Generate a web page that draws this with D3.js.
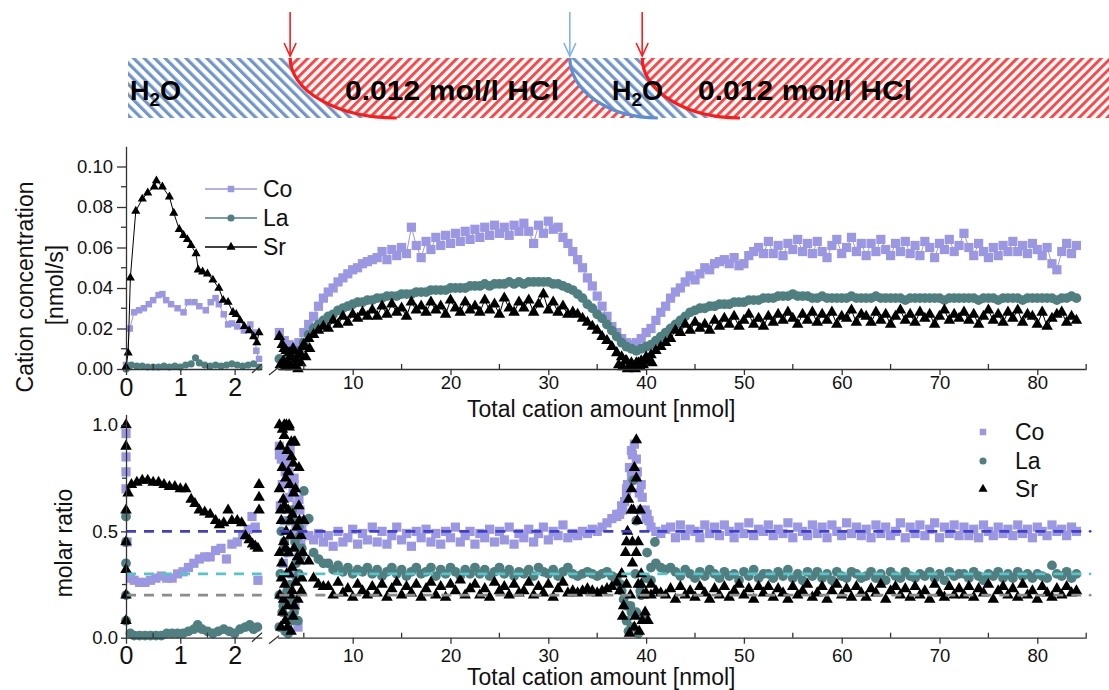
<!DOCTYPE html>
<html>
<head>
<meta charset="utf-8">
<script src="https://cdn.jsdelivr.net/npm/d3@7"></script>
<style>
  body { margin: 0; background: #fff; }
  svg { display: block; font-family: "Liberation Sans", Arial, sans-serif; }
</style>
</head>
<body>
<div id="chart"></div>
<script>
// ---- data (concentration in 1e-3 nmol/s, molar ratio in %) ----
const seriesNames = ["Co", "La", "Sr"];

// left part of the x axis (0 - 2.5 nmol)
const coConcLX = [0,0.07,0.15,0.24,0.33,0.42,0.5,0.6,0.67,0.74,0.83,0.95,1.06,1.14,1.26,1.35,1.47,1.56,1.65,1.71,1.8,1.88,1.95,2.05,2.17,2.29,2.37,2.4,2.45];
const coConcLY = [2,20,28,29,30,32,34,36.5,37,34,32,30,28,33,33,31,29,33,35,32,27,22,22.5,21,19,22,18,9,5];
const laConcLX = [0,0.05,0.1,0.2,0.3,0.4,0.5,0.6,0.7,0.8,0.9,1.0,1.1,1.2,1.28,1.35,1.45,1.55,1.65,1.75,1.85,1.95,2.05,2.15,2.25,2.35,2.45];
const laConcLY = [0,1,2,1.5,1.5,1,1,1,1.5,1,1.5,1,2,2.5,5.5,3,2,1.5,2,1.5,2,2.5,2,1.5,2,2.5,1];
const srConcLX = [0,0.04,0.08,0.18,0.3,0.4,0.52,0.56,0.67,0.8,0.88,0.98,1.06,1.13,1.2,1.29,1.33,1.41,1.5,1.6,1.71,1.79,1.88,1.97,2.03,2.1,2.18,2.27,2.35,2.41,2.45];
const srConcLY = [1,8,45,78,84,87,90,93,90,85,77,69,66,64,61,57,49,48,47,44,40,34,33,28,27,24,21,19,16,13,18];

const coRatioLX = [0,0,0,0,0.02,0.08,0.15,0.25,0.35,0.45,0.55,0.65,0.75,0.85,0.95,1.05,1.15,1.25,1.35,1.45,1.55,1.65,1.75,1.85,1.95,2.05,2.15,2.25,2.32,2.38,2.43];
const coRatioLY = [96,85,78,70,45,28,27,26,26,27,28,29,28,28,30,31,33,35,37,38,38,41,42,37,44,45,48,51,57,52,27];
const laRatioLX = [0,0,0,0,0,0.08,0.15,0.25,0.35,0.45,0.55,0.65,0.75,0.85,0.95,1.05,1.15,1.25,1.32,1.4,1.5,1.6,1.7,1.8,1.9,2.0,2.1,2.2,2.28,2.35,2.42];
const laRatioLY = [57,45,35,20,8,2,1,1,1,1,1,1,2,2,2,2,3,4,6,4,3,2,3,4,3,2,4,5,6,4,5];
const srRatioLX = [0,0,0,0,0,0,0,0.04,0.1,0.2,0.3,0.4,0.5,0.6,0.7,0.8,0.9,1.0,1.1,1.2,1.27,1.35,1.45,1.55,1.65,1.72,1.8,1.88,1.95,2.05,2.13,2.2,2.27,2.33,2.38,2.43,2.45,2.45,2.45];
const srRatioLY = [100,90,60,45,32,20,8,68,72,73,74,74,73,73,72,71,71,70,70,65,63,60,59,58,55,53,54,60,55,55,54,48,46,44,43,42,60,66,72];

// right part of the x axis (2.5 - 84 nmol)
const xRight = [
  2.5,3,3.5,4,4.5,5,5.5,6,6.5,7,
  7.5,8,8.5,9,9.5,10,10.5,11,11.5,12,
  12.5,13,13.5,14,14.5,15,15.5,16,16.5,17,
  17.5,18,18.5,19,19.5,20,20.5,21,21.5,22,
  22.5,23,23.5,24,24.5,25,25.5,26,26.5,27,
  27.5,28,28.5,29,29.5,30,30.5,31,31.5,32,
  32.5,33,33.5,34,34.5,35,35.5,36,36.5,37,
  37.5,38,38.5,39,39.5,40,40.5,41,41.5,42,
  42.5,43,43.5,44,44.5,45,45.5,46,46.5,47,
  47.5,48,48.5,49,49.5,50,50.5,51,51.5,52,
  52.5,53,53.5,54,54.5,55,55.5,56,56.5,57,
  57.5,58,58.5,59,59.5,60,60.5,61,61.5,62,
  62.5,63,63.5,64,64.5,65,65.5,66,66.5,67,
  67.5,68,68.5,69,69.5,70,70.5,71,71.5,72,
  72.5,73,73.5,74,74.5,75,75.5,76,76.5,77,
  77.5,78,78.5,79,79.5,80,80.5,81,81.5,82,
  82.5,83,83.5,84];

const coConcR = [
  18,14,12,11,13,18,22,26,31,35,
  38,40,43,45,47,49,50,52,53,54,
  55,58,54,59,56,60,57,70,61,55,
  63,59,65,61,66,62,67,63,68,64,
  69,65,70,66,71,67,70,66,71,68,
  72,68,62,71,67,73,69,70,65,62,
  58,54,50,45,41,36,31,26,21,18,
  15,13,12,13,15,18,20,24,28,31,
  35,38,40,43,46,44,47,50,49,52,
  53,54,52,55,51,52,56,58,60,57,
  63,57,61,56,62,59,64,58,62,57,
  63,58,55,61,64,57,60,65,58,62,
  56,62,58,64,59,56,62,58,63,57,
  61,56,63,60,55,62,59,64,58,61,
  67,60,56,62,58,55,60,56,61,58,
  63,58,61,57,62,59,56,60,52,49,
  58,62,57,61];
const laConcR = [
  5,4,4,6,9,13,17,20,22,24,
  26,27,29,30,31,32,33,33,34,34,
  35,35,36,36,36,37,37,37,38,38,
  38,39,39,39,39,40,40,40,40,41,
  41,41,42,41,42,42,42,43,42,43,
  42,43,43,43,43,43,42,42,41,40,
  39,37,35,32,30,27,25,22,19,16,
  13,11,10,9,10,11,12,14,16,18,
  20,22,24,26,28,29,30,30,31,31,
  32,32,32,33,33,33,34,34,34,35,
  35,35,36,36,36,37,36,36,36,35,
  35,36,35,35,35,35,35,36,35,35,
  35,35,36,35,35,35,35,35,34,35,
  35,35,35,35,35,35,34,35,35,35,
  35,35,35,34,35,35,35,34,35,35,
  35,35,34,35,35,35,35,35,35,34,
  35,35,36,35];
const srConcR = [
  16,10,8,9,7,12,15,17,19,21,
  20,24,22,26,23,27,25,28,26,29,
  26,31,27,32,28,30,26,33,29,31,
  28,33,29,31,27,34,30,28,33,29,
  31,28,34,29,32,27,35,30,28,33,
  30,34,28,32,37,29,33,28,31,27,
  28,27,25,23,21,19,16,14,11,8,
  6,4,3,3,4,6,7,9,11,13,
  15,19,18,22,19,23,20,22,19,24,
  21,25,22,26,21,24,27,22,25,21,
  26,23,27,24,28,25,22,27,24,28,
  23,27,24,28,22,26,25,29,23,27,
  26,23,28,24,27,22,26,29,24,27,
  23,28,25,27,22,26,29,24,27,25,
  28,24,27,22,26,29,24,27,23,28,
  25,29,23,27,26,22,28,21,25,27,
  28,23,26,24];
const srConcExtraX = [2.6,2.8,2.9,3.1,3.2,3.4,3.6,3.7,3.9,4.1,4.2,4.4,4.6,4.7,4.9,5.2,5.6,
  37.2,37.6,37.9,38.1,38.4,38.6,38.9,39.2,39.4,39.7,40.2,40.6];
const srConcExtraY = [2,12,4,1,9,3,6,1,10,2,5,0,8,3,11,6,10,
  2,1,4,0,2,1,0,3,1,2,4,3];

const coRatioR = [
  86,82,78,72,65,55,48,46,49,45,
  48,43,50,45,47,51,44,49,46,52,
  45,50,44,48,52,46,49,43,50,47,
  51,45,49,44,50,47,52,45,48,50,
  44,49,47,51,45,50,46,52,44,49,
  47,51,45,49,52,46,50,48,53,47,
  49,48,50,49,51,50,52,54,56,58,
  62,70,88,75,60,56,52,50,49,51,
  52,47,53,48,51,50,47,53,49,52,
  48,53,50,47,52,49,54,48,51,50,
  53,48,51,49,54,47,52,50,48,53,
  49,52,47,53,50,48,54,49,52,48,
  51,47,53,49,52,48,50,54,47,52,
  49,53,48,51,54,47,52,49,53,48,
  52,48,51,47,53,50,48,52,49,51,
  48,53,49,51,47,52,50,48,53,50,
  51,48,52,50];
const laRatioR = [
  20,45,10,55,30,69,56,40,37,35,
  35,32,34,31,33,30,32,31,33,30,
  32,29,31,33,30,32,29,31,33,30,
  31,33,29,32,30,33,31,29,32,30,
  33,30,32,29,31,33,30,32,29,31,
  30,32,29,33,31,30,32,29,31,33,
  30,29,30,31,30,29,30,31,29,28,
  22,15,5,12,20,28,33,35,33,32,
  33,31,29,32,30,28,31,29,32,30,
  28,31,29,30,27,31,29,32,28,30,
  30,28,31,29,32,28,30,27,31,29,
  31,28,30,27,31,29,28,31,30,28,
  29,31,28,30,27,31,29,28,31,29,
  28,30,29,31,28,30,27,31,29,30,
  30,28,31,29,27,30,29,31,28,30,
  28,31,29,30,28,30,29,28,34,30,
  29,31,28,30];
const srRatioR = [
  100,100,99,92,80,55,36,28,25,24,
  24,20,26,21,23,19,25,22,20,24,
  21,25,19,23,26,20,24,21,25,19,
  23,26,20,24,19,25,22,27,20,23,
  25,20,23,19,26,22,24,20,25,21,
  22,26,20,24,21,25,19,23,26,21,
  22,21,22,23,22,21,22,23,24,26,
  30,45,60,40,25,21,20,22,21,20,
  23,18,24,20,22,19,24,21,18,23,
  20,24,19,22,25,20,23,18,24,21,
  24,19,23,21,18,24,20,22,25,19,
  21,24,18,22,25,20,23,19,24,21,
  19,23,21,25,18,22,24,20,23,19,
  24,20,22,18,25,21,19,24,20,23,
  20,24,19,23,21,25,18,22,24,20,
  23,19,25,20,22,18,24,21,19,23,
  20,24,21,22];
const coRatioExtraX = [2.5,2.6,2.7,2.8,2.9,3.0,3.1,3.2,3.3,3.4,3.5,3.6,3.7,3.8,3.9,4.0,4.1,4.2,4.3,4.4,4.5,4.6,4.7,4.8,
  37.0,37.3,37.6,37.8,38.0,38.1,38.3,38.5,38.6,38.8,39.0,39.1,39.3,39.5,39.6,39.9,40.1,40.3];
const coRatioExtraY = [90,62,84,72,35,55,78,84,20,40,66,88,48,30,70,75,15,52,62,5,38,60,44,52,
  57,58,60,64,68,72,80,76,86,91,84,78,68,72,66,60,58,55];
const laRatioExtraX = [2.5,2.6,2.7,2.8,2.9,3.0,3.1,3.2,3.3,3.4,3.5,3.6,3.7,3.8,3.9,4.0,4.1,4.2,4.3,4.4,4.5,4.6,4.7,4.8,
  37.4,37.7,38.0,38.2,38.4,38.5,38.7,38.9,39.0,39.2,39.4,39.5,39.8,40.1,40.5,40.9];
const laRatioExtraY = [5,30,50,12,15,42,3,40,22,2,55,25,8,60,18,12,45,35,28,8,52,48,38,42,
  25,18,8,3,15,12,74,30,55,2,22,20,10,40,27,45];
const srRatioExtraX = [2.5,2.55,2.6,2.65,2.7,2.75,2.8,2.85,2.9,2.95,3.0,3.05,3.1,3.15,3.2,3.25,3.3,3.35,3.4,3.45,
  3.5,3.55,3.6,3.65,3.7,3.75,3.8,3.85,3.9,3.95,4.0,4.1,4.2,4.3,4.4,4.5,4.6,4.7,4.8,4.9,
  2.52,2.62,2.72,2.82,2.92,3.02,3.12,3.22,3.32,3.42,3.52,3.62,3.72,3.82,3.92,4.02,4.15,4.35,4.55,4.75,
  37.3,37.5,37.7,37.9,38.1,38.3,38.5,38.6,38.7,38.8,38.9,39.0,39.1,39.2,39.3,39.5,39.7,39.9,40.2,40.5,
  37.6,38.0,38.2,38.4,38.6,38.8,39.0,39.2,39.4,39.6];
const srRatioExtraY = [70,20,90,5,55,35,80,12,65,45,95,25,8,75,50,30,88,15,60,40,
  100,72,20,48,3,85,33,58,10,68,42,92,26,52,18,62,36,48,28,40,
  40,60,28,98,18,62,42,100,5,78,30,55,92,22,82,15,70,38,55,22,
  22,30,15,40,50,2,70,35,60,80,10,93,55,45,3,30,20,12,8,25,
  10,25,65,20,45,5,75,25,60,8];

// stoichiometric reference ratios (%)
const refRatios = [50, 30, 20];

// solution switches along the total cation amount [nmol]
const switchAt = [3.6, 32.2, 39.6];
const switchEnd = [14.5, 41.2, 49.6];
const bannerLabels = ["H2O", "0.012 mol/l HCl", "H2O", "0.012 mol/l HCl"];

// ---- drawing ----
const colors = { Co: "#9b97e3", La: "#4f7f80", Sr: "#000000" };
const refColors = ["#3f3fcc", "#56c4c8", "#8c8c8c"];
const symbols = { Co: d3.symbolSquare, La: d3.symbolCircle, Sr: d3.symbolTriangle };
const symSmall = { Co: 42, La: 40, Sr: 36 };
const symBig = { Co: 85, La: 75, Sr: 58 };

const svg = d3.select("#chart").append("svg")
  .attr("width", 1109)
  .attr("height", 690);

const xL = d3.scaleLinear().domain([0, 2.5]).range([126, 261.75]);
const xR = d3.scaleLinear().domain([2.3, 85]).range([277.4, 1086.2]);
const yTop = d3.scaleLinear().domain([0, 110]).range([369, 146.25]);
const yBot = d3.scaleLinear().domain([0, 105]).range([637.7, 414.4]);

// banner with hatched regions
const defs = svg.append("defs");
function hatch(id, color, angle, gap, w) {
  const p = defs.append("pattern")
    .attr("id", id)
    .attr("patternUnits", "userSpaceOnUse")
    .attr("width", gap).attr("height", gap)
    .attr("patternTransform", `rotate(${angle})`);
  p.append("rect").attr("width", w).attr("height", gap).attr("fill", color);
}
hatch("blueHatch", "#6f95cb", -45, 7.4, 3.2);
hatch("redHatch", "#ff4646", 45, 6.6, 3);

const bT = 58, bB = 118, bL = 128, bR = 1109;
const s0 = xR(switchAt[0]), e0 = xR(switchEnd[0]);
const s1 = xR(switchAt[1]), e1 = xR(switchEnd[1]);
const s2 = xR(switchAt[2]), e2 = xR(switchEnd[2]);
const h = bB - bT;
const regions = [
  { fill: "url(#blueHatch)", d: `M${bL},${bT} L${s0},${bT} A${e0 - s0},${h} 0 0 0 ${e0},${bB} L${bL},${bB} Z` },
  { fill: "url(#redHatch)", d: `M${s0},${bT} L${s1},${bT} A${e1 - s1},${h} 0 0 0 ${e1},${bB} L${e0},${bB} A${e0 - s0},${h} 0 0 1 ${s0},${bT} Z` },
  { fill: "url(#blueHatch)", d: `M${s1},${bT} L${s2},${bT} A${e2 - s2},${h} 0 0 0 ${e2},${bB} L${e1},${bB} A${e1 - s1},${h} 0 0 1 ${s1},${bT} Z` },
  { fill: "url(#redHatch)", d: `M${s2},${bT} L${bR},${bT} L${bR},${bB} L${e2},${bB} A${e2 - s2},${h} 0 0 1 ${s2},${bT} Z` }
];
svg.append("g").selectAll("path").data(regions).enter().append("path")
  .attr("d", d => d.d).attr("fill", d => d.fill);

const switchColors = ["#ff1a1a", "#5b8ed3", "#ff1a1a"];
const arrowColors = ["#ff1a1a", "#7fb2f5", "#ff1a1a"];
[[s0, e0], [s1, e1], [s2, e2]].forEach(([s, e], i) => {
  svg.append("path")
    .attr("d", `M${s},${bT} A${e - s},${h} 0 0 0 ${e},${bB}`)
    .attr("fill", "none").attr("stroke", switchColors[i]).attr("stroke-width", 3.2);
  svg.append("line")
    .attr("x1", s).attr("x2", s).attr("y1", 12).attr("y2", 56)
    .attr("stroke", arrowColors[i]).attr("stroke-width", 1.6);
  svg.append("polyline")
    .attr("points", `${s - 6},${43} ${s},${56} ${s + 6},${43}`)
    .attr("fill", "none").attr("stroke", arrowColors[i]).attr("stroke-width", 1.6);
});

const bannerX = [130, 345, 612, 698];
bannerLabels.forEach((lab, i) => {
  const t = svg.append("text")
    .attr("x", bannerX[i]).attr("y", 100)
    .style("font-family", "'Liberation Sans', Arial, sans-serif")
    .style("font-weight", "bold")
    .style("font-size", "27px")
    .attr("fill", "#000");
  if (lab === "H2O") {
    t.append("tspan").text("H");
    t.append("tspan").attr("dy", 6).style("font-size", "19px").text("2");
    t.append("tspan").attr("dy", -6).text("O");
  } else {
    t.attr("textLength", 214).attr("lengthAdjust", "spacingAndGlyphs").text(lab);
  }
});

// helpers to draw series
function zip(xs, ys) { return xs.map((x, i) => ({ x: x, y: ys[i] })).filter(d => d.y !== undefined); }

function drawLine(g, data, xs, ys, name) {
  g.append("path")
    .datum(data)
    .attr("fill", "none")
    .attr("stroke", colors[name])
    .attr("stroke-width", 1)
    .attr("d", d3.line().x(d => xs(d.x)).y(d => ys(d.y)));
}
function drawMarks(g, data, xs, ys, name, sizes) {
  g.append("g").selectAll("path").data(data).enter().append("path")
    .attr("transform", d => `translate(${xs(d.x)},${ys(d.y)})`)
    .attr("d", d3.symbol().type(symbols[name]).size(sizes[name]))
    .attr("fill", colors[name]);
}

// top panel: concentrations
const gTop = svg.append("g");
const topLeft = { Co: zip(coConcLX, coConcLY), La: zip(laConcLX, laConcLY), Sr: zip(srConcLX, srConcLY) };
const topRight = { Co: zip(xRight, coConcR), La: zip(xRight, laConcR), Sr: zip(xRight, srConcR) };
seriesNames.forEach(n => {
  drawLine(gTop, topLeft[n], xL, yTop, n);
  drawMarks(gTop, topLeft[n], xL, yTop, n, symSmall);
  drawLine(gTop, topRight[n], xR, yTop, n);
  drawMarks(gTop, topRight[n], xR, yTop, n, symBig);
  if (n === "Sr") drawMarks(gTop, zip(srConcExtraX, srConcExtraY), xR, yTop, n, symBig);
});

// bottom panel: molar ratios
const gBot = svg.append("g");
const botLeft = { Co: zip(coRatioLX, coRatioLY), La: zip(laRatioLX, laRatioLY), Sr: zip(srRatioLX, srRatioLY) };
const botRight = { Co: zip(xRight, coRatioR), La: zip(xRight, laRatioR), Sr: zip(xRight, srRatioR) };
const botExtra = { Co: zip(coRatioExtraX, coRatioExtraY), La: zip(laRatioExtraX, laRatioExtraY), Sr: zip(srRatioExtraX, srRatioExtraY) };
seriesNames.forEach(n => {
  drawMarks(gBot, botLeft[n], xL, yBot, n, symBig);
  drawMarks(gBot, botRight[n], xR, yBot, n, symBig);
  drawMarks(gBot, botExtra[n], xR, yBot, n, symBig);
});

// reference dashed lines
refRatios.forEach((r, i) => {
  gBot.append("line")
    .attr("x1", xL(0)).attr("x2", xL(2.5))
    .attr("y1", yBot(r)).attr("y2", yBot(r))
    .attr("stroke", refColors[i]).attr("stroke-width", 2.6)
    .attr("stroke-dasharray", "10,8");
  gBot.append("line")
    .attr("x1", xR(2.5)).attr("x2", xR(84.5))
    .attr("y1", yBot(r)).attr("y2", yBot(r))
    .attr("stroke", refColors[i]).attr("stroke-width", 2.6)
    .attr("stroke-dasharray", "10,8");
  gBot.append("circle")
    .attr("cx", xR(85.4)).attr("cy", yBot(r)).attr("r", 1.4)
    .attr("fill", refColors[i]);
});

// axes
function styleAxis(g, fontSize) {
  g.select(".domain").attr("stroke", "#333").attr("stroke-width", 1.3);
  g.selectAll(".tick line").attr("stroke", "#333").attr("stroke-width", 1.3);
  g.selectAll(".tick text")
    .attr("fill", "#111")
    .style("font-family", "'Liberation Sans', Arial, sans-serif")
    .style("font-size", fontSize + "px");
}
function minorTicks(parent, vals, fn) {
  parent.append("g").selectAll("line").data(vals).enter().append("line")
    .each(function(d) { fn(d3.select(this), d); })
    .attr("stroke", "#333").attr("stroke-width", 1.3);
}

// top y axis
const gyTop = svg.append("g").attr("transform", `translate(${xL(0)},0)`)
  .call(d3.axisLeft(yTop).tickValues([0, 20, 40, 60, 80, 100])
    .tickFormat(d => (d / 1000).toFixed(2)).tickSize(9).tickSizeOuter(0).tickPadding(4));
styleAxis(gyTop, 18.5);
minorTicks(svg, [10, 30, 50, 70, 90], (l, d) => l.attr("x1", xL(0) - 5).attr("x2", xL(0)).attr("y1", yTop(d)).attr("y2", yTop(d)));

// bottom y axis
const gyBot = svg.append("g").attr("transform", `translate(${xL(0)},0)`)
  .call(d3.axisLeft(yBot).tickValues([0, 50, 100])
    .tickFormat(d => (d / 100).toFixed(1)).tickSize(5).tickSizeOuter(0).tickPadding(3));
styleAxis(gyBot, 18.5);
minorTicks(svg, [25, 75], (l, d) => l.attr("x1", xL(0) - 4).attr("x2", xL(0)).attr("y1", yBot(d)).attr("y2", yBot(d)));

// x axes (left and right parts, top and bottom panel)
[[yTop(0), 3, 1], [yBot(0), 3, 5]].forEach(([yy, padL, padR]) => {
  const gl = svg.append("g").attr("transform", `translate(0,${yy})`)
    .call(d3.axisBottom(xL).tickValues([0, 1, 2]).tickFormat(d3.format("d")).tickSize(6).tickSizeOuter(0).tickPadding(padL));
  styleAxis(gl, 25);
  minorTicks(svg, [0.5, 1.5], (l, d) => l.attr("x1", xL(d)).attr("x2", xL(d)).attr("y1", yy - 5).attr("y2", yy));

  const gr = svg.append("g").attr("transform", `translate(0,${yy})`)
    .call(d3.axisBottom(xR).tickValues([10, 20, 30, 40, 50, 60, 70, 80]).tickFormat(d3.format("d")).tickSize(6).tickSizeOuter(0).tickPadding(padR));
  styleAxis(gr, 18.5);
  minorTicks(svg, [5, 15, 25, 35, 45, 55, 65, 75, 85], (l, d) => l.attr("x1", xR(d)).attr("x2", xR(d)).attr("y1", yy - 5).attr("y2", yy));

  // axis break marks
  svg.append("line").attr("x1", 252).attr("y1", yy + 4).attr("x2", 262).attr("y2", yy - 5)
    .attr("stroke", "#333").attr("stroke-width", 1.3);
  svg.append("line").attr("x1", 269).attr("y1", yy + 6).attr("x2", 279).attr("y2", yy - 2)
    .attr("stroke", "#333").attr("stroke-width", 1.3);
});

// axis titles
const titleStyle = sel => sel
  .style("font-family", "'Liberation Sans', Arial, sans-serif")
  .style("font-size", "23px").attr("fill", "#111");
svg.append("text").attr("x", 467).attr("y", 417).text("Total cation amount [nmol]").call(titleStyle);
svg.append("text").attr("x", 467).attr("y", 685).text("Total cation amount [nmol]").call(titleStyle);
svg.append("text").attr("transform", "translate(33,287) rotate(-90)").attr("text-anchor", "middle")
  .text("Cation concentration").call(titleStyle);
svg.append("text").attr("transform", "translate(63,285) rotate(-90)").attr("text-anchor", "middle")
  .text("[nmol/s]").call(titleStyle);
svg.append("text").attr("transform", "translate(72,543) rotate(-90)").attr("text-anchor", "middle")
  .text("molar ratio").call(titleStyle);

// legends
const legTopY = [189, 218, 247];
seriesNames.forEach((n, i) => {
  svg.append("line").attr("x1", 205).attr("x2", 257).attr("y1", legTopY[i]).attr("y2", legTopY[i])
    .attr("stroke", colors[n]).attr("stroke-width", 1.3);
  svg.append("path").attr("transform", `translate(231,${legTopY[i]})`)
    .attr("d", d3.symbol().type(symbols[n]).size(symSmall[n])).attr("fill", colors[n]);
  svg.append("text").attr("x", 263).attr("y", legTopY[i] + 8).text(n).call(titleStyle);
});
const legBotY = [432, 461, 489];
seriesNames.forEach((n, i) => {
  svg.append("path").attr("transform", `translate(983,${legBotY[i]})`)
    .attr("d", d3.symbol().type(symbols[n]).size(symSmall[n])).attr("fill", colors[n]);
  svg.append("text").attr("x", 1015).attr("y", legBotY[i] + 8).text(n).call(titleStyle);
});
</script>
</body>
</html>
